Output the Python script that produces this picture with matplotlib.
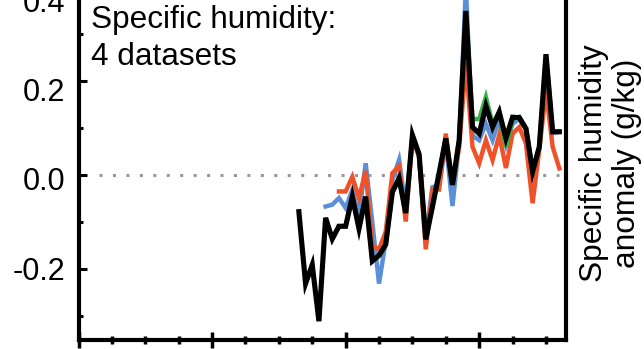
import numpy as np
import matplotlib.pyplot as plt
import matplotlib.transforms as mtransforms
from matplotlib.ticker import MultipleLocator

plt.rcParams['font.family'] = ['Liberation Sans', 'DejaVu Sans']

### Data: annual specific humidity anomalies (g/kg) ###
years_black = np.arange(1973, 2013)
q_black = [-0.077, -0.23, -0.19, -0.31, -0.09, -0.135, -0.108, -0.108, -0.045, -0.113,
           -0.045, -0.182, -0.17, -0.147, -0.035, -0.006, -0.08, 0.086, 0.045, -0.136,
           -0.066, 0.005, 0.079, -0.02, 0.075, 0.35, 0.103, 0.089, 0.148, 0.103,
           0.135, 0.079, 0.124, 0.123, 0.1, 0.008, 0.061, 0.258, 0.093, 0.093]

years_blue = np.arange(1977, 2013)
q_blue = [-0.066, -0.062, -0.048, -0.069, -0.031, -0.085, 0.026, -0.10, -0.23, -0.14,
          -0.01, 0.033, -0.07, 0.08, 0.04, -0.13, -0.025, -0.02, 0.07, -0.065,
          0.07, 0.40, 0.085, 0.075, 0.11, 0.075, 0.12, 0.065, 0.11, 0.12,
          0.1, 0.01, 0.06, 0.24, 0.09, 0.093]

years_orange = np.arange(1979, 2013)
q_orange = [-0.034, -0.034, -0.003, -0.048, 0.01, -0.15, -0.157, -0.12, 0.005, 0.02,
            -0.098, 0.08, 0.04, -0.157, -0.03, -0.03, 0.089, -0.02, 0.06, 0.24,
            0.061, 0.026, 0.075, 0.033, 0.086, 0.016, 0.089, 0.103, 0.068, -0.059,
            0.055, 0.18, 0.061, 0.015]

years_green = np.arange(1979, 2013)
q_green = [-0.108, -0.108, -0.045, -0.113, -0.045, -0.182, -0.17, -0.147, -0.035, -0.006,
           -0.08, 0.086, 0.045, -0.136, -0.066, 0.005, 0.079, -0.02, 0.075, 0.35,
           0.12, 0.12, 0.167, 0.11, 0.135, 0.06, 0.12, 0.125, 0.1, 0.008,
           0.061, 0.258, 0.093, 0.093]

yticks = [-0.2, 0.0, 0.2, 0.4]
ytick_labels = ['-0.2', '0.0', '0.2', '0.4']

### Figure ###
fig = plt.figure(figsize=(6.44, 3.49), dpi=100)
ax = fig.add_axes([0.1219, 0.0258, 0.757, 1.0774])

ax.plot(years_blue, q_blue, color='#5b8fd8', linewidth=3.2, solid_joinstyle='miter')
ax.plot(years_orange, q_orange, color='#ef5228', linewidth=3.2, solid_joinstyle='miter')
ax.plot(years_green, q_green, color='#3bb14a', linewidth=3.2, solid_joinstyle='miter')
ax.plot(years_black, q_black, color='black', linewidth=3.7, solid_joinstyle='miter')
ax.hlines(0, 1943, 2012, colors='#999999', linestyles=(0, (1, 3.4)), linewidth=2.2, zorder=0.5)

ax.set_xlim(1940, 2013)
ax.set_ylim(-0.35, 0.45)

for side in ['left', 'right', 'bottom', 'top']:
    ax.spines[side].set_linewidth(3.0)

ax.xaxis.set_major_locator(MultipleLocator(20))
ax.xaxis.set_minor_locator(MultipleLocator(5))
ax.tick_params(axis='x', which='major', direction='inout', length=11, width=2.5, labelbottom=False)
ax.tick_params(axis='x', which='minor', direction='inout', length=6, width=2.5)

ax.set_yticks(yticks, ytick_labels)
ax.yaxis.set_minor_locator(MultipleLocator(0.1))
ax.tick_params(axis='y', which='major', direction='in', length=6, width=2.2,
               labelsize=22, pad=9.5)
ax.tick_params(axis='y', which='minor', direction='in', length=2.8, width=2.2)

# tick labels sit a little lower the higher they are on the axis
for val, tick in zip(yticks, ax.yaxis.get_major_ticks(len(yticks))):
    off = (3.5 + 24 * val) / 100.0
    tick.label1.set_transform(tick.label1.get_transform() +
                              mtransforms.ScaledTranslation(0, -off, fig.dpi_scale_trans))

fig.text(91 / 644, 1 - 65 / 349, 'Specific humidity:\n4 datasets', fontsize=22.7,
         ha='left', va='baseline', linespacing=1.3)

fig.text(0.899, 0.532, 'Specific humidity\nanomaly (g/kg)', fontsize=22.8, rotation=90,
         ha='left', va='center', multialignment='center', linespacing=1.15)

fig.savefig('out.png', dpi=100)
